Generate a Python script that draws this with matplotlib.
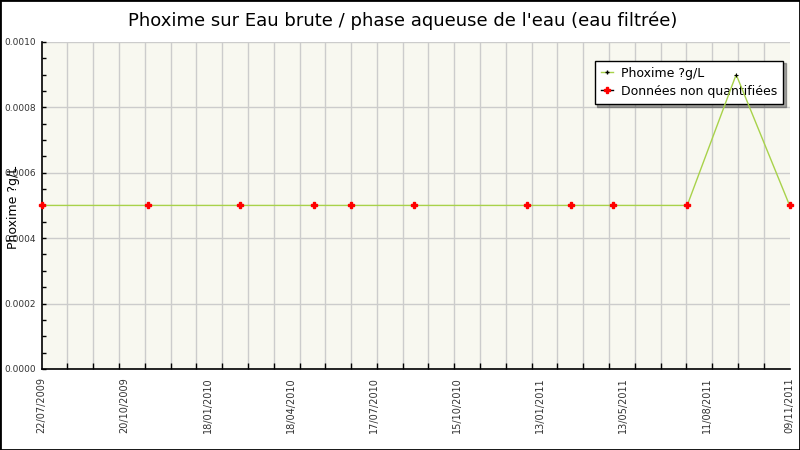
import datetime as dt

import matplotlib
matplotlib.use('Agg')
import matplotlib.pyplot as plt
import matplotlib.dates as mdates
import numpy as np
from matplotlib.lines import Line2D
from matplotlib.patches import Rectangle

# dates des prélèvements et valeurs (µg/L)
dates = ['2009-07-22', '2009-11-19', '2010-03-02', '2010-05-24', '2010-07-05',
         '2010-09-13', '2011-01-18', '2011-03-08', '2011-04-25', '2011-07-17',
         '2011-09-10', '2011-11-09']
values = [0.0005, 0.0005, 0.0005, 0.0005, 0.0005, 0.0005,
          0.0005, 0.0005, 0.0005, 0.0005, 0.0009, 0.0005]
# True = données non quantifiées
non_quantif = [True, True, True, True, True, True,
               True, True, True, True, False, True]

tick_labels = ['22/07/2009', '20/10/2009', '18/01/2010', '18/04/2010', '17/07/2010',
               '15/10/2010', '13/01/2011', '13/05/2011', '11/08/2011', '09/11/2011']

title = "Phoxime sur Eau brute / phase aqueuse de l'eau (eau filtrée)"
ylabel = 'Phoxime ?g/L'

x = mdates.date2num([dt.datetime.strptime(d, '%Y-%m-%d') for d in dates])
y = np.array(values)
nq = np.array(non_quantif)

x_start = mdates.date2num(dt.datetime(2009, 7, 22))
x_end = mdates.date2num(dt.datetime(2011, 11, 9))

fig = plt.figure(figsize=(8, 4.5), dpi=100)
ax = fig.add_axes([0.052, 0.18, 0.935, 0.727])
ax.set_facecolor('#f8f8f0')

ax.plot(x, y, color='#a8d24a', linewidth=1, marker='+', markersize=3,
        markeredgecolor='black', markeredgewidth=0.8, zorder=6)
ax.plot(x[nq], y[nq], linestyle='none', marker='P', markersize=5,
        color='red', markeredgecolor='red', zorder=7, clip_on=False)

ax.set_xlim(x_start, x_end)
ax.set_ylim(0, 0.001)

# 10 labels répartis sur l'axe, grille verticale en 29 intervalles
ax.set_xticks(np.linspace(x_start, x_end, len(tick_labels)))
ax.set_xticklabels(tick_labels, rotation=90, fontsize=7, color='#333333')
ax.set_xticks(np.linspace(x_start, x_end, 30), minor=True)
ax.tick_params(axis='x', which='major', length=0, pad=6)
ax.tick_params(axis='x', which='minor', direction='in', length=4, width=1)

ax.set_yticks(np.arange(0, 0.00101, 0.0002))
ax.set_yticklabels(['%.4f' % v for v in np.arange(0, 0.00101, 0.0002)],
                   fontsize=6.5, color='#333333')
ax.set_yticks(np.arange(0, 0.00101, 0.00005), minor=True)
ax.tick_params(axis='y', which='both', direction='in', length=3, width=1, pad=4)

ax.grid(True, which='minor', axis='x', color='#cccccc', linewidth=1)
ax.grid(True, which='major', axis='y', color='#cccccc', linewidth=1)
ax.set_axisbelow(True)

for s in ['top', 'right']:
    ax.spines[s].set_visible(False)
ax.spines['left'].set_linewidth(1.2)
ax.spines['bottom'].set_linewidth(1.2)

fig.text(0.503, 0.955, title, ha='center', va='center', fontsize=13)
fig.text(0.017, 0.54, ylabel, rotation=90, ha='center', va='center', fontsize=9)

handles = [
    Line2D([], [], color='#a8d24a', linewidth=1, marker='+', markersize=3,
           markeredgecolor='black'),
    Line2D([], [], color='black', linewidth=1, marker='P', markersize=5,
           markerfacecolor='red', markeredgecolor='red'),
]
leg = ax.legend(handles, ['Phoxime ?g/L', 'Données non quantifiées'],
                loc='upper right', bbox_to_anchor=(1.0, 0.962), fontsize=9,
                fancybox=False, shadow=True, framealpha=1, edgecolor='black',
                handlelength=1.0, handletextpad=0.6, borderpad=0.5,
                labelspacing=0.4)
leg.get_frame().set_linewidth(1)
leg.set_zorder(4)  # la courbe passe par-dessus la légende

fig.patches.append(Rectangle((0, 0), 1, 1, transform=fig.transFigure,
                             fill=False, edgecolor='black', linewidth=2))

fig.savefig('out.png', dpi=100)
